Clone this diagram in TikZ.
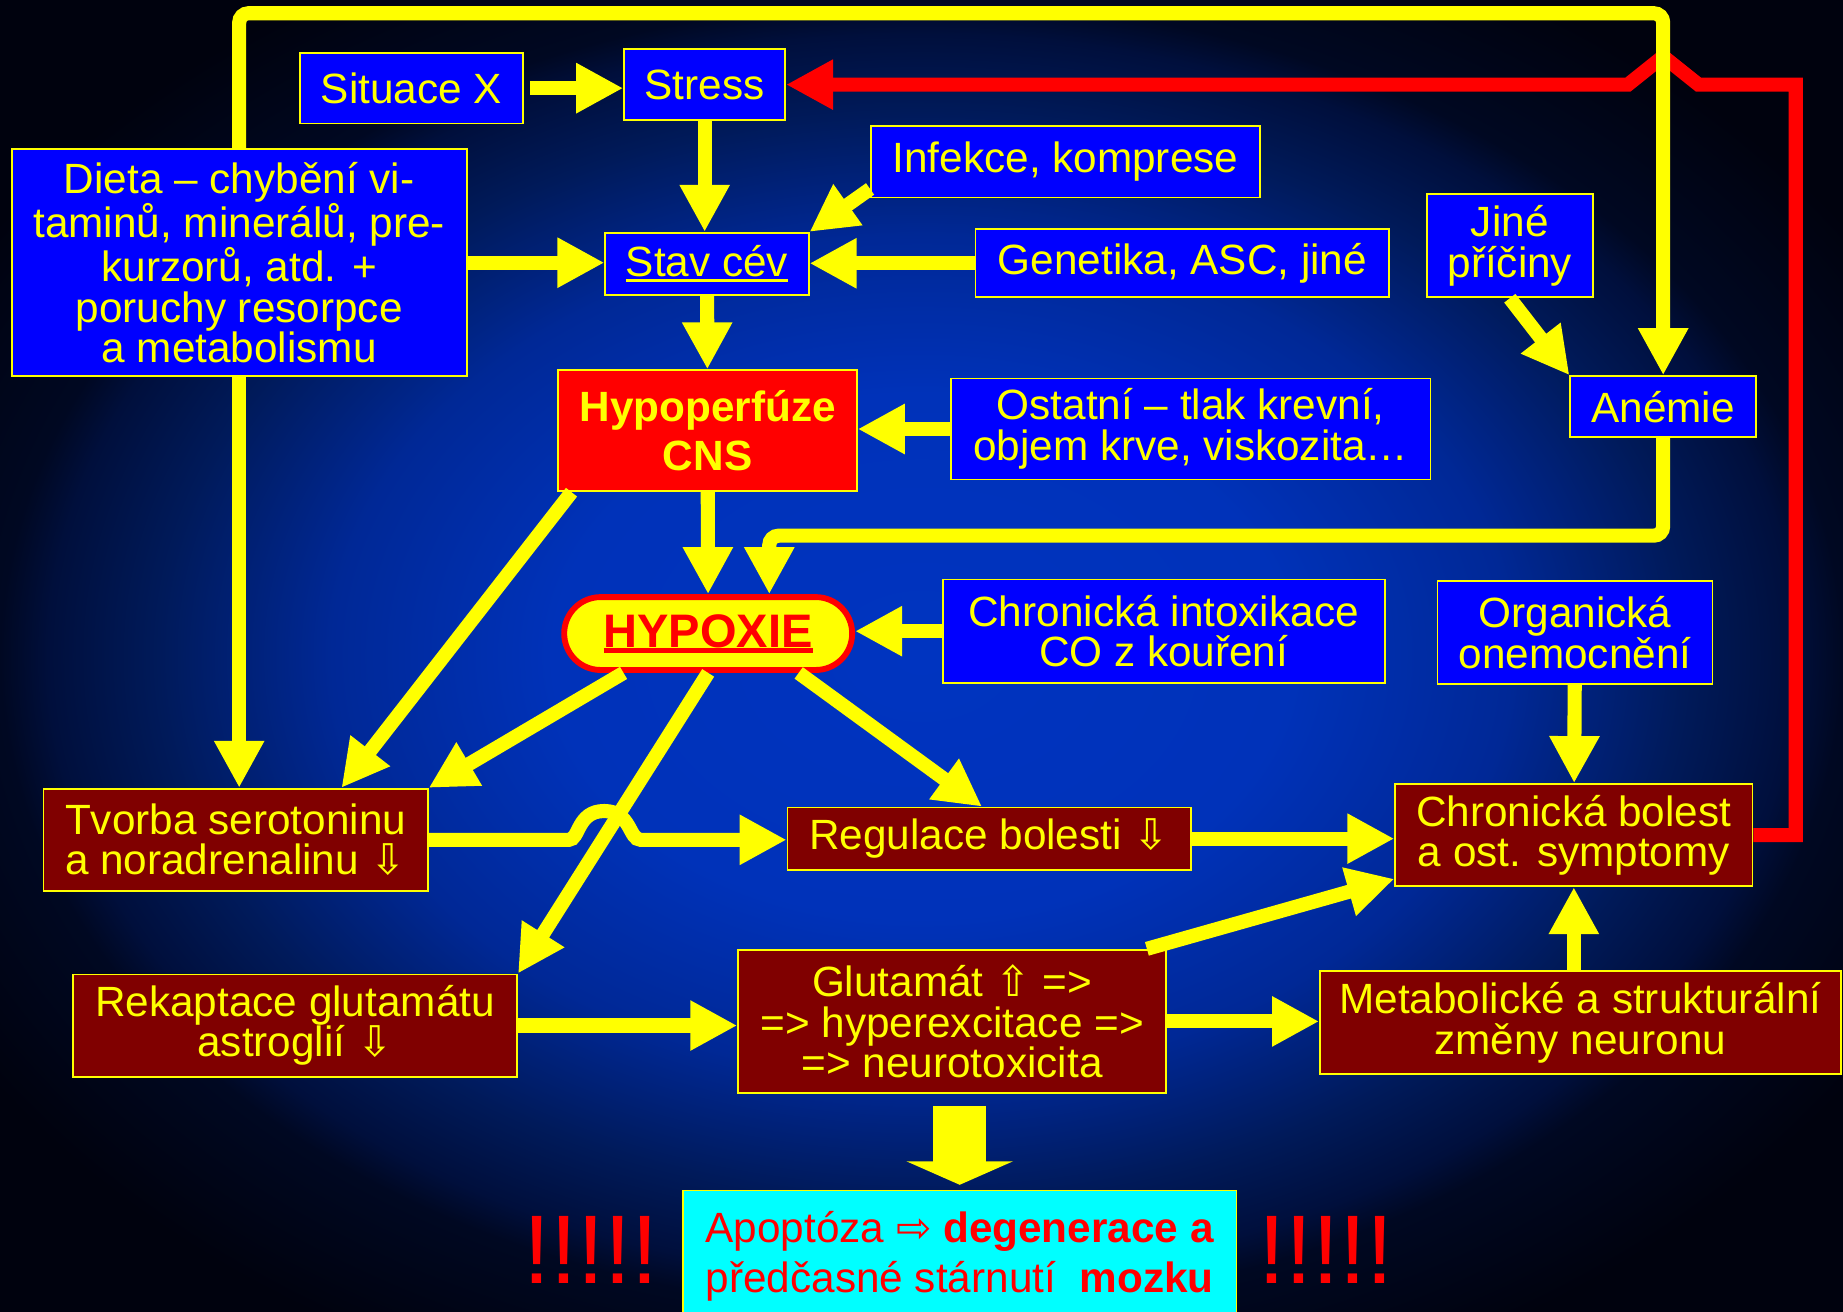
\documentclass[tikz,border=0pt]{standalone}
\usepackage{fontspec}
\setmainfont{Liberation Sans}
\newfontfamily\arrowfont{DejaVu Sans}
\usetikzlibrary{arrows.meta,calc}

\definecolor{bgcore}{RGB}{0,52,192}
\definecolor{bgsoft}{RGB}{0,50,185}
\definecolor{bglight}{RGB}{0,40,150}
\definecolor{bgmid}{RGB}{0,26,90}
\definecolor{bgdark}{RGB}{0,15,60}
\definecolor{bgedge}{RGB}{0,8,34}
\definecolor{bgblack}{RGB}{0,2,14}
\definecolor{boxblue}{RGB}{0,0,255}
\definecolor{boxbrown}{RGB}{128,0,0}
\definecolor{boxcyan}{RGB}{0,255,255}
\definecolor{lineyellow}{RGB}{255,255,0}
\definecolor{linered}{RGB}{255,0,0}

\pgfdeclareradialshading{slidebg}{\pgfpointorigin}{color(0bp)=(bgcore); color(10bp)=(bgsoft); color(16bp)=(bglight); color(20.7bp)=(bgmid); color(23.7bp)=(bgdark); color(25bp)=(bgedge); color(30bp)=(bgblack); color(50bp)=(bgblack)}

\newcommand\undertext[2][2.5pt]{\setbox0=\hbox{#2}\rlap{\rule[-5pt]{\wd0}{#1}}\box0}
\newcommand\arrdown{{\arrowfont ⇩}}
\newcommand\arrup{{\arrowfont ⇧}}
\newcommand\arrright{{\arrowfont ⇨}}

\tikzset{
  bluebox/.style={draw=lineyellow, line width=1.5pt, fill=boxblue, text=lineyellow, align=center, inner sep=0pt, font=\fontsize{36pt}{34.5pt}\selectfont},
  brownbox/.style={bluebox, fill=boxbrown},
  yarrow/.style={draw=lineyellow, line width=12pt, -{Triangle[length=40pt,width=40pt]}},
  rarrow/.style={draw=linered, line width=12pt, line join=miter, -{Triangle[length=40pt,width=40pt]}},
}

\begin{document}
\begin{tikzpicture}[x=1pt, y=-1pt]
        \useasboundingbox (0,0) rectangle (1568,1116);
        \shade [shading=slidebg] (0,0) rectangle (1568,1116);

        \node [bluebox, minimum width=190pt, minimum height=60pt] (situace) at (350,75) {Situace X};
        \node [bluebox, minimum width=137pt, minimum height=60pt] (stress) at (599.5,72) {Stress};
        \node [bluebox, minimum width=387pt, minimum height=193pt] (dieta) at (203.5,223.5) {Dieta – chybění vi-\\taminů, minerálů, pre-\\kurzorů, atd. +\\poruchy resorpce\\a metabolismu};
        \node [bluebox, minimum width=331pt, minimum height=61pt] (infekce) at (906.5,137.5) {Infekce, komprese};
        \node [bluebox, minimum width=173pt, minimum height=53pt] (stav) at (601.5,224.5) {\undertext{Stav cév}};
        \node [bluebox, minimum width=352pt, minimum height=58pt] (genetika) at (1006,224) {Genetika, ASC, jiné};
        \node [bluebox, minimum width=141pt, minimum height=88pt] (jine) at (1284.5,209) {Jiné\\příčiny};
        \node [bluebox, minimum width=158pt, minimum height=52pt] (anemie) at (1415,346) {Anémie};
        \node [bluebox, fill=linered, font=\fontsize{36pt}{41pt}\selectfont\bfseries, minimum width=254pt, minimum height=103pt] (hypo) at (602,366.5) {Hypoperfúze\\CNS};
        \node [bluebox, minimum width=408pt, minimum height=86pt] (ostatni) at (1013,365) {Ostatní – tlak krevní,\\objem krve, viskozita…};
        \node [bluebox, fill=lineyellow, draw=linered, line width=5pt, rounded corners=31pt, text=linered, font=\fontsize{40pt}{40pt}\selectfont\bfseries, minimum width=245pt, minimum height=62pt] (hypoxie) at (602.5,539) {\undertext[4pt]{HYPOXIE}};
        \node [bluebox, minimum width=376pt, minimum height=88pt] (intox) at (990,537) {Chronická intoxikace\\CO z kouření};
        \node [bluebox, minimum width=234pt, minimum height=88pt] (organ) at (1340,538) {Organická\\onemocnění};
        \node [brownbox, minimum width=327pt, minimum height=87pt] (tvorba) at (200.5,714.5) {Tvorba serotoninu\\a noradrenalinu \arrdown};
        \node [brownbox, minimum width=343pt, minimum height=53pt] (regulace) at (841.5,713.5) {Regulace bolesti \arrdown};
        \node [brownbox, minimum width=304pt, minimum height=87pt] (chron) at (1339,710.5) {Chronická bolest\\a ost. symptomy};
        \node [brownbox, minimum width=378pt, minimum height=87pt] (rekap) at (251,872.5) {Rekaptace glutamátu\\astroglií \arrdown};
        \node [brownbox, minimum width=364pt, minimum height=122pt] (glut) at (810,869) {Glutamát \arrup\ =>\\=> hyperexcitace =>\\=> neurotoxicita};
        \node [brownbox, minimum width=443pt, minimum height=88pt] (metab) at (1344.5,870) {Metabolické a strukturální\\změny neuronu};
        \node [bluebox, fill=boxcyan, text=linered, font=\fontsize{36pt}{43pt}\selectfont, minimum width=471pt, minimum height=112pt, anchor=north] (apop) at (816.5,1012) {Apoptóza \arrright\ \textbf{degenerace a}\\předčasné stárnutí\ \ \textbf{mozku}};
        \node [text=linered, font=\fontsize{83pt}{83pt}\selectfont] (bangleft) at (503,1063) {!!!!!};
        \node [text=linered, font=\fontsize{83pt}{83pt}\selectfont] (bangright) at (1128,1063) {!!!!!};

        \draw [rarrow] (chron.east) -| ++(36,-638.5) -- (1445,72) -- (1415,48) -- (1385,72) -- (stress.east);

        \draw [yarrow, rounded corners=8pt] (dieta.north) -- ++(0,-115) -| (anemie.north);
        \draw [yarrow] (dieta.south) -- (dieta.south |- tvorba.north);
        \draw [yarrow, shorten <=5pt] (situace.east) -- (situace.east -| stress.west);
        \draw [yarrow] (stress.south) -- (stress.south |- stav.north);
        \draw [yarrow] ([yshift=8pt]infekce.south west) -- (stav.north east);
        \draw [yarrow] (dieta.east) -- (dieta.east -| stav.west);
        \draw [yarrow] (genetika.west) -- (genetika.west -| stav.east);
        \draw [yarrow] (stav) -- (hypo);
        \draw [yarrow] (ostatni.west) -- (ostatni.west -| hypo.east);
        \draw [yarrow] (hypo) -- (hypoxie);
        \draw [yarrow] (jine.south) -- (anemie.north west);
        \draw [yarrow, rounded corners=8pt] (anemie.south) -- ++(0,83) -| ([xshift=52pt]hypoxie.north);
        \draw [yarrow] (intox.west) -- (intox.west -| hypoxie.east);
        \draw [yarrow] ([xshift=12pt]hypo.south west) -- ([xshift=90pt]tvorba.north);
        \draw [yarrow] ([xshift=-72pt]hypoxie.south) -- (tvorba.north east);
        \draw [yarrow] ([xshift=77pt]hypoxie.south) -- ([xshift=-6pt]regulace.north);
        \draw [yarrow] (tvorba.east) -- (484,714.5) .. controls (493,714.5) and (491,690) .. (514,690) .. controls (537,690) and (535,714.5) .. (545,714.5) -- (tvorba.east -| regulace.west);
        \draw [yarrow] (hypoxie.south) -- (rekap.north east);
        \draw [yarrow] (regulace.east) -- (regulace.east -| chron.west);
        \draw [yarrow] (organ) -- (chron);
        \draw [yarrow] ([xshift=-17pt]glut.north east) -- ([yshift=7pt]chron.south west);
        \draw [yarrow] (metab.north -| chron.south) -- (chron.south);
        \draw [yarrow] (rekap.east) -- (rekap.east -| glut.west);
        \draw [yarrow] (glut.east) -- (glut.east -| metab.west);
        \draw [draw=lineyellow, line width=45pt, -{Triangle[length=20pt,width=90pt]}, shorten <=10pt, shorten >=4pt] (apop.north |- glut.south) -- (apop.north);
    \end{tikzpicture}
\end{document}
